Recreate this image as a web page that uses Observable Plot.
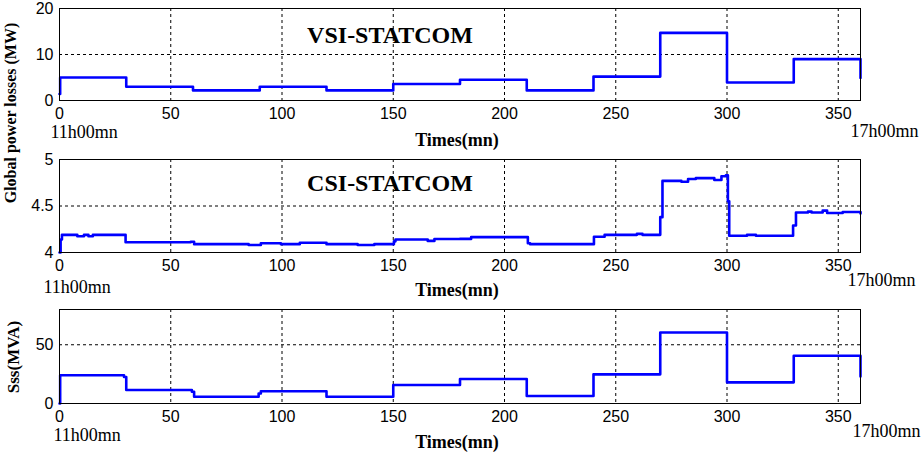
<!DOCTYPE html>
<html>
<head>
<meta charset="utf-8">
<script src="https://cdn.jsdelivr.net/npm/d3@7"></script>
<script src="https://cdn.jsdelivr.net/npm/@observablehq/plot@0.6"></script>
<style>
  html, body { margin: 0; padding: 0; background: #fff; }
  #wrap { position: relative; width: 923px; height: 453px; background: #fff; overflow: hidden; }
  #wrap svg { position: absolute; left: 0; }
  #wrap svg g[aria-label="text"], #wrap svg g[aria-label="text"] text { font-family: "Liberation Serif", "Times New Roman", serif !important; }
  #wrap svg g[aria-label$="tick label"] text { font-family: "Liberation Sans", Arial, sans-serif !important; }
  .ylab { position: absolute; font-family: "Liberation Serif", "Times New Roman", serif; font-weight: bold; color: #000;
          white-space: nowrap; transform: translate(-50%, -50%) rotate(-90deg); }
</style>
</head>
<body>
<div id="wrap"></div>
<script>
// ---- data ----
const xTicks = [0, 50, 100, 150, 200, 250, 300, 350];
const xGrid = [50, 100, 150, 200, 250, 300, 350];

// VSI-STATCOM global power losses (MW), step-after breakpoints
const vsiTime = [0, 0.3, 30, 60, 90, 120, 150, 180, 210, 240, 270, 300, 330, 360];
const vsiLoss = [1.4, 5.0, 3.0, 2.2, 3.0, 2.2, 3.6, 4.5, 2.2, 5.2, 14.7, 3.9, 9.0, 4.9];
const vsiTicks = [0, 10, 20];

// CSI-STATCOM global power losses (MW)
const csiTime = [0, 0.5, 1.1, 8, 11, 13, 15, 29.7, 59, 60.5, 85, 90.5, 99.5, 108, 120, 134, 141.5, 150.3, 151, 165.5, 168.5, 180, 185, 210.5, 211.5, 240.2, 245, 259.5, 262, 270, 271, 279.5, 282.5, 286, 294.3, 297.5, 299.5, 300.4, 301, 309, 313, 329.7, 331, 336.4, 338, 343, 345, 352, 354, 360];
const csiLoss = [4.0, 4.14, 4.19, 4.175, 4.19, 4.175, 4.19, 4.11, 4.115, 4.09, 4.08, 4.10, 4.09, 4.105, 4.09, 4.08, 4.09, 4.12, 4.14, 4.125, 4.145, 4.146, 4.165, 4.10, 4.09, 4.17, 4.19, 4.20, 4.19, 4.38, 4.77, 4.76, 4.79, 4.80, 4.78, 4.82, 4.83, 4.55, 4.18, 4.19, 4.18, 4.29, 4.43, 4.44, 4.43, 4.45, 4.425, 4.435, 4.435, 4.42];
const csiTicks = [4, 4.5, 5];

// Sss (MVA)
const sssTime = [0, 0.3, 29, 30, 59.5, 60.5, 89.5, 90.5, 120, 150, 180, 210, 240, 270, 300, 330, 360];
const sssVal = [0, 24, 22.5, 11.5, 10, 5.7, 8.5, 10.4, 5.7, 15.8, 20.8, 6.4, 24.8, 60.4, 18, 40.7, 23];
const sssTicks = [0, 50];

const panelTitles = ["VSI-STATCOM", "CSI-STATCOM"];
const xLabel = "Times(mn)";
const startLabel = "11h00mn";
const endLabel = "17h00mn";
const yLabel1 = "Global power losses (MW)";
const yLabel2 = "Sss(MVA)";

// ---- drawing ----
const wrap = document.getElementById("wrap");
const serif = "Liberation Serif";
const BLUE = "#0000ff";

function panel({top, height, mt, mb, times, values, yDomain, yTicks, yGrid, title, titleDy,
                startDx, startDy, endDx, endDy, labDy, tickPad}) {
  const data = times.map((t, i) => ({t, v: values[i]}));
  const marks = [
    Plot.ruleX(xGrid, {stroke: "#000", strokeWidth: 1, strokeDasharray: "3,3"}),
    Plot.ruleY(yGrid, {stroke: "#000", strokeWidth: 1, strokeDasharray: "3,3"}),
    Plot.line(data, {x: "t", y: "v", curve: "step-after", stroke: BLUE, strokeWidth: 2.6}),
    Plot.frame({stroke: "#000", strokeWidth: 1}),
    Plot.axisX(xTicks, {tickSize: 0, tickPadding: tickPad, fontSize: 16, fill: "#000", tickFormat: d => String(d)}),
    Plot.axisY(yTicks, {tickSize: 0, tickPadding: 6, fontSize: 16, fill: "#000", tickFormat: d => String(d)}),
    Plot.text([startLabel], {frameAnchor: "bottom-left", text: d => d, textAnchor: "start", lineAnchor: "middle",
      dx: startDx, dy: startDy, fontFamily: serif, fontSize: 18, fill: "#000"}),
    Plot.text([endLabel], {frameAnchor: "bottom-right", text: d => d, textAnchor: "start", lineAnchor: "middle",
      dx: endDx, dy: endDy, fontFamily: serif, fontSize: 18, fill: "#000"}),
    Plot.text([xLabel], {frameAnchor: "bottom", text: d => d, textAnchor: "middle", lineAnchor: "middle",
      dx: -3, dy: labDy, fontFamily: serif, fontWeight: "bold", fontSize: 18, fill: "#000"})
  ];
  if (title) {
    marks.push(Plot.text([title], {frameAnchor: "top", text: d => d, textAnchor: "middle", lineAnchor: "middle",
      dx: -70, dy: titleDy, fontFamily: serif, fontWeight: "bold", fontSize: 24, fill: "#000"}));
  }
  const svg = Plot.plot({
    width: 923, height,
    marginLeft: 59, marginRight: 63, marginTop: mt, marginBottom: mb,
    style: {fontFamily: "Liberation Sans", fontSize: "16px", background: "transparent", color: "#000", overflow: "visible"},
    x: {domain: [0, 360], label: null},
    y: {domain: yDomain, label: null},
    marks
  });
  svg.style.top = top + "px";
  wrap.appendChild(svg);
}

panel({top: 0, height: 150, mt: 8, mb: 50, times: vsiTime, values: vsiLoss, yDomain: [0, 20],
  yTicks: vsiTicks, yGrid: [10], title: panelTitles[0], titleDy: 27,
  startDx: -9, startDy: 32, endDx: -10, endDy: 31, labDy: 40, tickPad: 7});
panel({top: 150, height: 150, mt: 9, mb: 48, times: csiTime, values: csiLoss, yDomain: [4, 5],
  yTicks: csiTicks, yGrid: [4.5], title: panelTitles[1], titleDy: 24,
  startDx: -16, startDy: 35, endDx: -13, endDy: 28, labDy: 38, tickPad: 7});
panel({top: 300, height: 153, mt: 9, mb: 50, times: sssTime, values: sssVal, yDomain: [0, 80],
  yTicks: sssTicks, yGrid: [50], title: null,
  startDx: -6, startDy: 32, endDx: -8, endDy: 28, labDy: 39, tickPad: 7});

function ylab(text, x, y, size) {
  const d = document.createElement("div");
  d.className = "ylab";
  d.textContent = text;
  d.style.left = x + "px";
  d.style.top = y + "px";
  d.style.fontSize = size + "px";
  wrap.appendChild(d);
}
ylab(yLabel1, 11, 113, 16);
ylab(yLabel2, 14, 357, 17);
</script>
</body>
</html>
